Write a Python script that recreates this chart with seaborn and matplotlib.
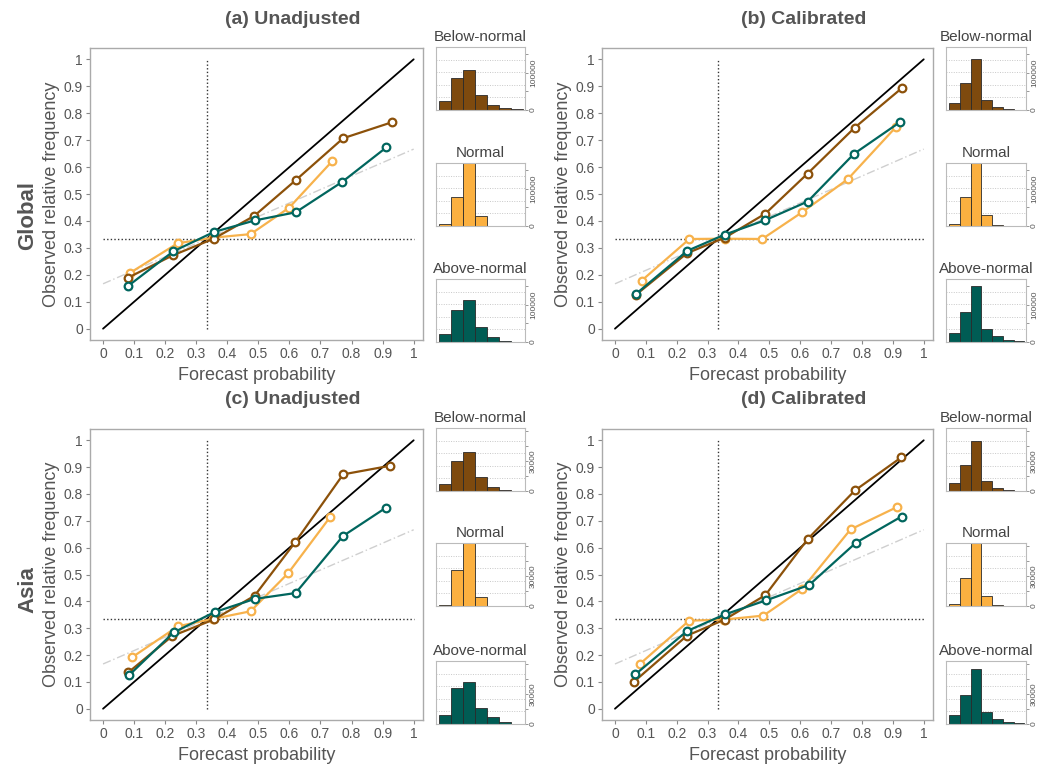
# Reliability diagrams: unadjusted vs calibrated tercile forecasts (Global / Asia)
import numpy as np
import pandas as pd
import matplotlib
matplotlib.use("Agg")
import matplotlib.pyplot as plt
import seaborn as sns

# ---------------------------------------------------
# Data
# ---------------------------------------------------
categories = ["Below-normal", "Normal", "Above-normal"]

# (a) Global, unadjusted
fc_a_below = [0.080, 0.224, 0.356, 0.487, 0.620, 0.773, 0.929]
obs_a_below = [0.189, 0.272, 0.334, 0.419, 0.551, 0.707, 0.766]
fc_a_normal = [0.088, 0.240, 0.355, 0.475, 0.599, 0.737]
obs_a_normal = [0.208, 0.317, 0.338, 0.351, 0.449, 0.621]
fc_a_above = [0.080, 0.226, 0.357, 0.489, 0.620, 0.770, 0.912]
obs_a_above = [0.158, 0.287, 0.359, 0.402, 0.432, 0.545, 0.673]

# (b) Global, calibrated
fc_b_below = [0.067, 0.233, 0.356, 0.487, 0.624, 0.776, 0.930]
obs_b_below = [0.125, 0.280, 0.338, 0.427, 0.576, 0.746, 0.894]
fc_b_normal = [0.086, 0.241, 0.355, 0.477, 0.607, 0.754, 0.911]
obs_b_normal = [0.178, 0.333, 0.334, 0.333, 0.433, 0.555, 0.750]
fc_b_above = [0.067, 0.234, 0.355, 0.487, 0.624, 0.774, 0.922]
obs_b_above = [0.128, 0.289, 0.349, 0.403, 0.472, 0.649, 0.766]

# (c) Asia, unadjusted
fc_c_below = [0.081, 0.223, 0.358, 0.488, 0.619, 0.773, 0.924]
obs_c_below = [0.135, 0.271, 0.333, 0.421, 0.621, 0.873, 0.905]
fc_c_normal = [0.094, 0.241, 0.355, 0.475, 0.596, 0.731]
obs_c_normal = [0.192, 0.307, 0.335, 0.363, 0.505, 0.714]
fc_c_above = [0.083, 0.227, 0.359, 0.488, 0.620, 0.772, 0.911]
obs_c_above = [0.124, 0.284, 0.360, 0.409, 0.431, 0.643, 0.749]

# (d) Asia, calibrated
fc_d_below = [0.062, 0.233, 0.355, 0.487, 0.625, 0.777, 0.927]
obs_d_below = [0.101, 0.272, 0.332, 0.423, 0.633, 0.813, 0.936]
fc_d_normal = [0.082, 0.240, 0.353, 0.481, 0.606, 0.763, 0.913]
obs_d_normal = [0.168, 0.328, 0.332, 0.347, 0.446, 0.668, 0.751]
fc_d_above = [0.066, 0.233, 0.355, 0.490, 0.629, 0.780, 0.928]
obs_d_above = [0.128, 0.289, 0.351, 0.404, 0.461, 0.618, 0.716]

# forecast counts per probability bin (7 bins over 0..1)
hist_a_below = [24000, 86000, 107000, 40000, 13000, 4500, 1500]
hist_a_normal = [4500, 77000, 230000, 27000, 1000, 300, 0]
hist_a_above = [21000, 86000, 114000, 41000, 14000, 3000, 500]
hist_b_below = [18000, 73000, 138000, 27000, 8000, 3000, 1000]
hist_b_normal = [5000, 78000, 230000, 29000, 1500, 300, 0]
hist_b_above = [25000, 80000, 151000, 35000, 16000, 5000, 2000]
hist_c_below = [7400, 30000, 39000, 14000, 4000, 1300, 300]
hist_c_normal = [700, 36000, 80000, 9400, 300, 0, 0]
hist_c_above = [8800, 36000, 42000, 16000, 7000, 2000, 300]
hist_d_below = [8400, 26000, 50000, 10000, 3000, 1300, 500]
hist_d_normal = [2000, 28000, 80000, 10000, 700, 0, 0]
hist_d_above = [9400, 29000, 55000, 12000, 5400, 2000, 700]

prob_ticks = [0, 0.1, 0.2, 0.3, 0.4, 0.5, 0.6, 0.7, 0.8, 0.9, 1]
prob_labels = ["0", "0.1", "0.2", "0.3", "0.4", "0.5", "0.6", "0.7", "0.8", "0.9", "1"]
clim = 1 / 3

colors = {"Below-normal": "#8c510a", "Normal": "#f7b24c", "Above-normal": "#01665e"}
hist_fill = {"Below-normal": "#7e4a0e", "Normal": "#fbb040", "Above-normal": "#005c54"}
text_col = "#555555"

# ---------------------------------------------------
# Figure setup
# ---------------------------------------------------
sns.set_theme(style="white")
plt.rcParams['font.family'] = ['Liberation Sans', 'DejaVu Sans']

W, H = 1040, 765
fig = plt.figure(figsize=(W / 100, H / 100), dpi=100)


def px_axes(left, top, right, bottom):
    return fig.add_axes([left / W, 1 - bottom / H, (right - left) / W, (bottom - top) / H])


def reliability(ax, curves, ylabel=True):
    ref = np.array([0, 1])
    ax.plot(ref, ref, color="black", lw=1.3, zorder=2)
    ax.plot(ref, (ref + clim) / 2, color="#cfcfcf", lw=1, ls=(0, (6, 2, 1, 2)), zorder=1)
    ax.plot(ref, [clim, clim], color="#333333", lw=1, ls=(0, (1, 1.6)), zorder=1)
    ax.plot([clim, clim], ref, color="#333333", lw=1, ls=(0, (1, 1.6)), zorder=1)
    for cat in ["Normal", "Below-normal", "Above-normal"]:
        fc, obs = curves[cat]
        df = pd.DataFrame({"fc": fc, "obs": obs})
        sns.lineplot(data=df, x="fc", y="obs", ax=ax, sort=False, color=colors[cat],
                     lw=1.6, marker="o", markersize=5.5, markerfacecolor="white",
                     markeredgecolor=colors[cat], markeredgewidth=1.6, zorder=3)
    ax.set_xlim(-0.042, 1.03)
    ax.set_ylim(-0.042, 1.042)
    ax.set_xticks(prob_ticks)
    ax.set_xticklabels(prob_labels)
    ax.set_yticks(prob_ticks)
    ax.set_yticklabels(prob_labels)
    ax.tick_params(axis="both", which="both", length=3, width=0.8, color="#888888",
                   labelcolor=text_col, labelsize=10, pad=2, bottom=True, left=True)
    for s in ax.spines.values():
        s.set_color("#aaaaaa")
        s.set_linewidth(1)
    ax.set_xlabel("Forecast probability", fontsize=13, color=text_col, labelpad=4)
    ax.set_ylabel("Observed relative frequency" if ylabel else "", fontsize=13,
                  color=text_col, labelpad=3)


bin_mids = np.arange(7) / 7 + 1 / 14


def histogram(ax, counts, cat, ymax, ticks, ticklabels):
    sns.histplot(x=bin_mids, weights=counts, bins=7, binrange=(0, 1), ax=ax,
                 color=hist_fill[cat], alpha=1, edgecolor="#2a2a2a", linewidth=0.6, zorder=2)
    ax.set_xlim(-0.04, 1.02)
    ax.set_ylim(0, ymax)
    ax.set_xticks([])
    ax.set_xlabel("")
    ax.set_ylabel("")
    ax.yaxis.tick_right()
    ax.set_yticks(ticks)
    ax.set_yticklabels(ticklabels, rotation=90, va="center")
    ax.tick_params(axis="y", length=2.5, width=0.6, color="#888888", labelcolor=text_col,
                   labelsize=6, pad=1, right=True, left=False)
    for frac in [0.2, 0.4, 0.6, 0.8]:
        ax.axhline(frac * ymax, color="#c8c8c8", lw=0.7, ls=(0, (1, 1.5)), zorder=0)
    for s in ax.spines.values():
        s.set_color("#bbbbbb")
        s.set_linewidth(0.8)
    ax.set_title(cat, fontsize=11, color="#444444", pad=4)


# ---------------------------------------------------
# Panels
# ---------------------------------------------------
panels = [
    ("(a) Unadjusted", 90, 423, 48, 340, 436, 525, [47, 163, 279], 170000,
     {"Below-normal": (fc_a_below, obs_a_below), "Normal": (fc_a_normal, obs_a_normal),
      "Above-normal": (fc_a_above, obs_a_above)},
     [hist_a_below, hist_a_normal, hist_a_above]),
    ("(b) Calibrated", 602, 933, 48, 340, 946, 1026, [47, 163, 279], 170000,
     {"Below-normal": (fc_b_below, obs_b_below), "Normal": (fc_b_normal, obs_b_normal),
      "Above-normal": (fc_b_above, obs_b_above)},
     [hist_b_below, hist_b_normal, hist_b_above]),
    ("(c) Unadjusted", 90, 423, 429, 720, 436, 525, [428, 543, 661], 63000,
     {"Below-normal": (fc_c_below, obs_c_below), "Normal": (fc_c_normal, obs_c_normal),
      "Above-normal": (fc_c_above, obs_c_above)},
     [hist_c_below, hist_c_normal, hist_c_above]),
    ("(d) Calibrated", 602, 933, 429, 720, 946, 1026, [428, 543, 661], 63000,
     {"Below-normal": (fc_d_below, obs_d_below), "Normal": (fc_d_normal, obs_d_normal),
      "Above-normal": (fc_d_above, obs_d_above)},
     [hist_d_below, hist_d_normal, hist_d_above]),
]

for title, l, r, t, b, hl, hr, htops, ymax, curves, hists in panels:
    ax = px_axes(l, t, r, b)
    reliability(ax, curves)
    fig.text((l + r) / 2 / W + 0.035, 1 - (t - 29) / H, title, ha="center", va="center",
             fontsize=14, fontweight="bold", color=text_col)
    if ymax > 100000:
        ticks, labs = [0, 50000, 100000, 150000], ["0", "", "100000", ""]
    else:
        ticks, labs = [0, 15000, 30000, 45000, 60000], ["0", "", "30000", "", ""]
    for cat, counts, ht in zip(categories, hists, htops):
        hax = px_axes(hl, ht, hr, ht + 63)
        histogram(hax, counts, cat, ymax, ticks, labs)

# row labels
fig.text(28 / W, 1 - 215 / H, "Global", rotation=90, ha="center", va="center",
         fontsize=16, fontweight="bold", color=text_col)
fig.text(28 / W, 1 - 590 / H, "Asia", rotation=90, ha="center", va="center",
         fontsize=16, fontweight="bold", color=text_col)

plt.savefig("out.png", dpi=100)
